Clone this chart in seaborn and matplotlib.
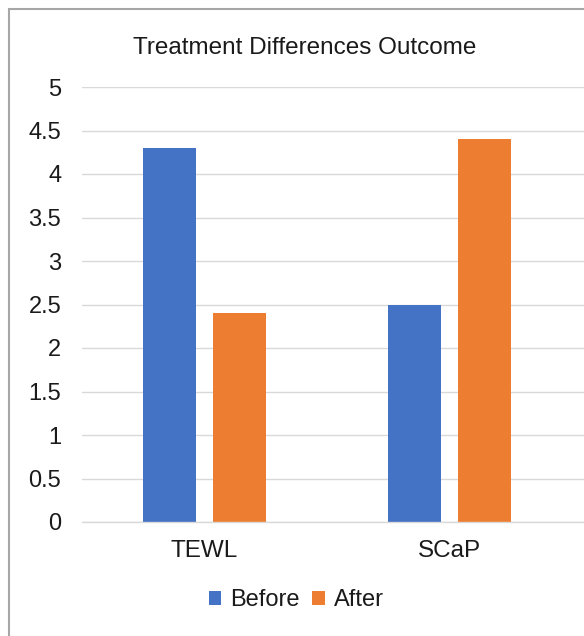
import matplotlib
matplotlib.use("Agg")
import pandas as pd
import matplotlib.pyplot as plt
import seaborn as sns
from matplotlib.patches import Rectangle

# chart data
categories = ['TEWL', 'SCaP']
series_names = ['Before', 'After']
before_vals = [4.3, 2.5]
after_vals = [2.4, 4.4]
y_ticks = [0, 0.5, 1, 1.5, 2, 2.5, 3, 3.5, 4, 4.5, 5]
y_tick_labels = ['0', '0.5', '1', '1.5', '2', '2.5', '3', '3.5', '4', '4.5', '5']

df = pd.DataFrame({
    'measure': categories * 2,
    'phase': [series_names[0]] * 2 + [series_names[1]] * 2,
    'score': before_vals + after_vals,
})

sns.set_theme(style='white')
plt.rcParams['font.family'] = ['Liberation Sans', 'DejaVu Sans']
text_color = '#1a1a1a'

W, H = 584, 636
fig = plt.figure(figsize=(W / 100, H / 100), dpi=100)

# outer chart border (cropped on right/bottom in the reference)
fig.patches.append(Rectangle((9 / W, -0.1), 1.2, 1.1 - 9 / H, transform=fig.transFigure,
                             fill=False, edgecolor='#a6a6a6', linewidth=1.5))

left, right, bottom, top = 82, 584, 522, 87
ax = fig.add_axes([left / W, 1 - bottom / H, (right - left) / W, (bottom - top) / H])

sns.barplot(data=df, x='measure', y='score', hue='phase', hue_order=series_names,
            palette=['#4472C4', '#ED7D31'], width=0.57, gap=0.23, ax=ax,
            saturation=1, errorbar=None, linewidth=0)

cat_px = 245
ax.set_xlim(-0.5, -0.5 + (right - left) / cat_px)
ax.set_ylim(0, 5)
ax.set_yticks(y_ticks)
ax.set_yticklabels(y_tick_labels)
ax.yaxis.grid(True, color='#d9d9d9', linewidth=1)
ax.set_axisbelow(True)
for s in ['left', 'right', 'top']:
    ax.spines[s].set_visible(False)
ax.spines['bottom'].set_color('#d9d9d9')
ax.spines['bottom'].set_linewidth(1)
ax.tick_params(axis='y', length=0, pad=15, labelsize=17, labelcolor=text_color)
ax.tick_params(axis='x', length=0, pad=13, labelsize=17.5, labelcolor=text_color)
ax.set_xlabel('')
ax.set_ylabel('')

fig.text(305 / W, 1 - 48 / H, 'Treatment Differences Outcome', ha='center', va='center',
         fontsize=17.5, color=text_color)

sns.move_legend(ax, 'center', bbox_to_anchor=(296 / W, 1 - 600 / H),
                bbox_transform=fig.transFigure, ncol=2, frameon=False, title=None,
                fontsize=17, handlelength=0.55, handleheight=0.55,
                handletextpad=0.35, columnspacing=0.55, labelcolor=text_color)

fig.savefig('out.png', dpi=100)
